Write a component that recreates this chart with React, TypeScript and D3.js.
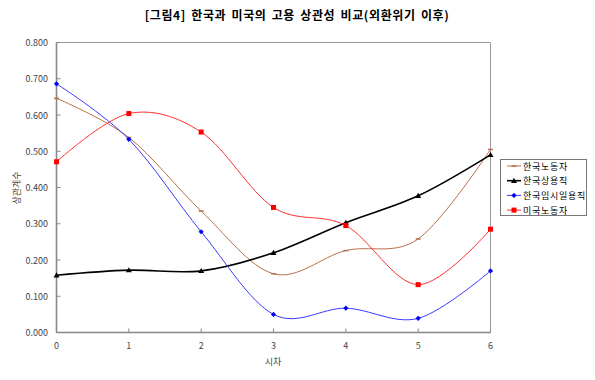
import React from "react";
import * as d3 from "d3";

const lags = [0, 1, 2, 3, 4, 5, 6];
const krWorkers = [0.646, 0.538, 0.335, 0.162, 0.226, 0.258, 0.505];
const krRegular = [0.158, 0.172, 0.170, 0.220, 0.303, 0.377, 0.490];
const krTemp = [0.686, 0.533, 0.278, 0.050, 0.067, 0.039, 0.170];
const usWorkers = [0.471, 0.604, 0.553, 0.345, 0.295, 0.132, 0.285];
const yTicks = [0, 0.1, 0.2, 0.3, 0.4, 0.5, 0.6, 0.7, 0.8];
const title = "[그림4] 한국과 미국의 고용 상관성 비교(외환위기 이후)";

const series = [
  { name: "한국노동자", values: krWorkers, color: "#b8704a", marker: "dash", width: 1 },
  { name: "한국상용직", values: krRegular, color: "#000000", marker: "triangle", width: 1.6 },
  { name: "한국임시일용직", values: krTemp, color: "#3a3aff", marker: "diamond", width: 1 },
  { name: "미국노동자", values: usWorkers, color: "#ff3030", marker: "square", width: 1 },
];

const FONT = "'Noto Sans CJK KR', 'Noto Sans', sans-serif";

function Marker({ type, x, y, color }: { type: string; x: number; y: number; color: string }) {
  if (type === "square") return <rect x={x - 2.5} y={y - 2.5} width={5} height={5} fill="#ff0000" />;
  if (type === "diamond")
    return <path d={`M${x},${y - 2.6}L${x + 2.6},${y}L${x},${y + 2.6}L${x - 2.6},${y}Z`} fill="#0000ff" />;
  if (type === "triangle")
    return <path d={`M${x},${y - 3}L${x + 3},${y + 2.2}L${x - 3},${y + 2.2}Z`} fill="#000" />;
  return <line x1={x - 2.5} x2={x + 2.5} y1={y} y2={y} stroke={color} strokeWidth={1.5} />;
}

export default function App() {
  const W = 595, H = 380;
  const x = d3.scaleLinear().domain([0, 6]).range([56.5, 490.5]);
  const y = d3.scaleLinear().domain([0, 0.8]).range([332.5, 42.5]);
  const line = d3
    .line<number>()
    .x((_, i) => x(lags[i]))
    .y((d) => y(d))
    .curve(d3.curveCatmullRom.alpha(0));

  return (
    <svg width={W} height={H} style={{ position: "absolute", left: 0, top: 0, background: "#fff" }}>
      <text x={297} y={20} textAnchor="middle" fontFamily={FONT} fontSize={12} fontWeight="bold" fill="#000" letterSpacing={0.6} wordSpacing={2}>
        {title}
      </text>
      {/* plot frame */}
      <line x1={x(0)} x2={x(6)} y1={y(0.8)} y2={y(0.8)} stroke="#9a9a9a" strokeWidth={1} />
      <line x1={x(6)} x2={x(6)} y1={y(0.8)} y2={y(0)} stroke="#9a9a9a" strokeWidth={1} />
      <line x1={x(0)} x2={x(0)} y1={y(0.8)} y2={y(0)} stroke="#888" strokeWidth={1.6} />
      <line x1={x(0)} x2={x(6)} y1={y(0)} y2={y(0)} stroke="#888" strokeWidth={1.6} />
      {yTicks.map((t) => (
        <g key={t}>
          <line x1={x(0)} x2={x(0) + 4} y1={y(t)} y2={y(t)} stroke="#888" strokeWidth={1} />
          <text x={48} y={y(t) + 3.5} textAnchor="end" fontFamily={FONT} fontSize={9} fill="#444">
            {t.toFixed(3)}
          </text>
        </g>
      ))}
      {lags.map((t) => (
        <g key={t}>
          <line x1={x(t)} x2={x(t)} y1={y(0)} y2={y(0) - 4} stroke="#888" strokeWidth={1} />
          <text x={x(t)} y={349} textAnchor="middle" fontFamily={FONT} fontSize={9} fill="#444">
            {t}
          </text>
        </g>
      ))}
      <text x={273} y={365} textAnchor="middle" fontFamily={FONT} fontSize={9} fill="#444">
        시차
      </text>
      <text
        transform="translate(20,188) rotate(-90)"
        textAnchor="middle"
        fontFamily={FONT}
        fontSize={9}
        fill="#444"
      >
        상관계수
      </text>
      {series.map((s) => (
        <g key={s.name}>
          <path d={line(s.values) || ""} fill="none" stroke={s.color} strokeWidth={s.width} />
          {s.values.map((v, i) => (
            <Marker key={i} type={s.marker} x={x(lags[i])} y={y(v)} color={s.color} />
          ))}
        </g>
      ))}
      {/* legend */}
      <rect x={500.5} y={159.5} width={86} height={56} fill="#fff" stroke="#777" strokeWidth={1} />
      {series.map((s, i) => {
        const ly = 166 + i * 14.7;
        return (
          <g key={s.name}>
            <line x1={507} x2={521} y1={ly} y2={ly} stroke={s.color} strokeWidth={s.width} />
            <Marker type={s.marker} x={514} y={ly} color={s.color} />
            <text x={523} y={ly + 3.5} fontFamily={FONT} fontSize={9} fill="#000" letterSpacing={0.7}>
              {s.name}
            </text>
          </g>
        );
      })}
    </svg>
  );
}
